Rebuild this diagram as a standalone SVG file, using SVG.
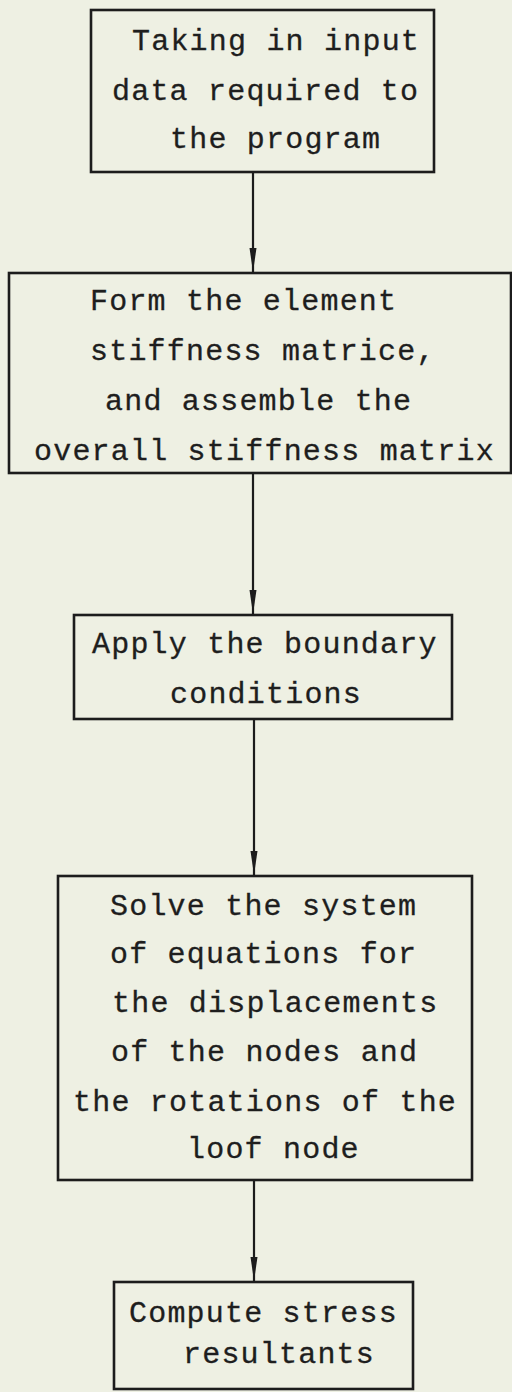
<svg xmlns="http://www.w3.org/2000/svg" width="512" height="1392" viewBox="0 0 512 1392">
<style>
.box{fill:none;stroke:#1c1c1c;stroke-width:2.6}
.t{font-family:"Liberation Mono","Courier New",monospace;font-size:30px;letter-spacing:1.2px;fill:#1e1e1e;stroke:#1e1e1e;stroke-width:0.3}
.c{stroke:#1c1c1c;stroke-width:2.2;fill:none}
</style>
<defs>
<marker id="ah" markerUnits="userSpaceOnUse" markerWidth="10" markerHeight="26" refX="4" refY="24" orient="0" viewBox="0 0 8 26">
<path d="M0.5,0 L7.5,0 L4,24 Z" fill="#1c1c1c"/>
</marker>
</defs>
<rect width="512" height="1392" fill="#eef0e3"/>
<g id="connectors">
<line class="c" x1="253" y1="172" x2="253" y2="272" marker-end="url(#ah)"/>
<line class="c" x1="253" y1="473" x2="253" y2="614" marker-end="url(#ah)"/>
<line class="c" x1="254" y1="719" x2="254" y2="875" marker-end="url(#ah)"/>
<line class="c" x1="254" y1="1180" x2="254" y2="1281" marker-end="url(#ah)"/>
</g>
<g id="n1">
<rect class="box" x="91" y="10" width="343" height="162"/>
<text class="t" x="132" y="50">Taking in input</text>
<text class="t" x="112" y="100">data required to</text>
<text class="t" x="170" y="148">the program</text>
</g>
<g id="n2">
<rect class="box" x="9" y="273" width="502" height="200"/>
<text class="t" x="90" y="310">Form the element</text>
<text class="t" x="90" y="360">stiffness matrice,</text>
<text class="t" x="105" y="410">and assemble the</text>
<text class="t" x="34" y="460">overall stiffness matrix</text>
</g>
<g id="n3">
<rect class="box" x="74" y="615" width="378" height="104"/>
<text class="t" x="92" y="653">Apply the boundary</text>
<text class="t" x="170" y="703">conditions</text>
</g>
<g id="n4">
<rect class="box" x="58" y="876" width="414" height="304"/>
<text class="t" x="110" y="915">Solve the system</text>
<text class="t" x="110" y="963">of equations for</text>
<text class="t" x="112" y="1012">the displacements</text>
<text class="t" x="111" y="1061">of the nodes and</text>
<text class="t" x="73" y="1111">the rotations of the</text>
<text class="t" x="187" y="1158">loof node</text>
</g>
<g id="n5">
<rect class="box" x="114" y="1282" width="299" height="107"/>
<text class="t" x="129" y="1322">Compute stress</text>
<text class="t" x="183" y="1363">resultants</text>
</g>
</svg>
